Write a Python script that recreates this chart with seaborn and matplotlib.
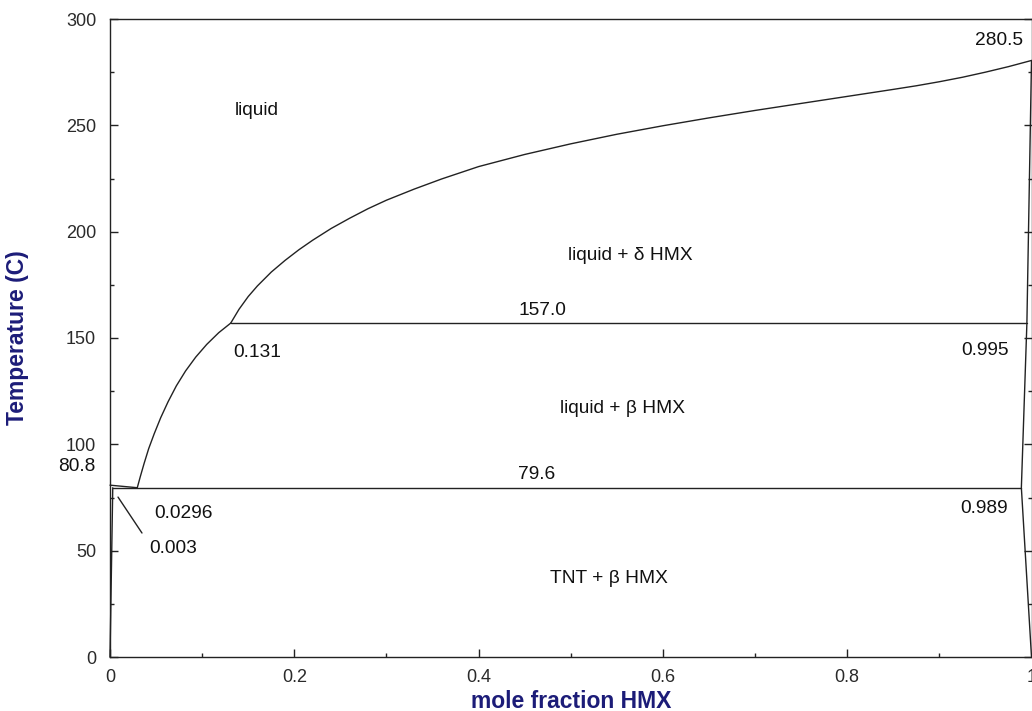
import numpy as np
import pandas as pd
import matplotlib
matplotlib.use("Agg")
import matplotlib.pyplot as plt
from matplotlib.ticker import MultipleLocator
import seaborn as sns

# Liquidus of delta-HMX (upper branch)
delta_x = [0.131, 0.14, 0.15, 0.16, 0.175, 0.19, 0.205, 0.22, 0.24, 0.26, 0.28,
           0.30, 0.33, 0.36, 0.40, 0.45, 0.50, 0.55, 0.60, 0.65, 0.70, 0.75,
           0.80, 0.85, 0.875, 0.90, 0.925, 0.95, 0.975, 1.0]
delta_t = [157.0, 163.5, 169.5, 174.5, 181.0, 186.5, 191.5, 196.0, 201.5, 206.3,
           210.8, 214.8, 220.0, 224.8, 230.6, 236.3, 241.3, 245.8, 249.8, 253.5,
           257.0, 260.3, 263.6, 266.9, 268.6, 270.5, 272.6, 275.0, 277.6, 280.5]

# Liquidus of beta-HMX (lower branch)
beta_x = [0.0296, 0.033, 0.037, 0.042, 0.048, 0.055, 0.063, 0.072, 0.082,
          0.093, 0.105, 0.118, 0.131]
beta_t = [79.6, 85.0, 91.0, 98.0, 105.0, 112.5, 120.0, 127.5, 134.5,
          141.0, 147.0, 152.5, 157.0]

# Transition lines: [x_start, x_end, temperature]
trans_high = [0.131, 0.995, 157.0]
trans_low = [0.003, 0.989, 79.6]

# TNT side
tnt_liq_x = [0.0, 0.0296]
tnt_liq_t = [80.8, 79.6]
tnt_sol_x = [0.003, 0.0]
tnt_sol_t = [79.6, 0.0]

# HMX side solidus
hmx_sol_x = [1.0, 0.989, 0.995, 1.0]
hmx_sol_t = [0.0, 79.6, 157.0, 280.5]

segments = {
    "delta": (delta_x, delta_t),
    "beta": (beta_x, beta_t),
    "high": ([trans_high[0], trans_high[1]], [trans_high[2], trans_high[2]]),
    "low": ([trans_low[0], trans_low[1]], [trans_low[2], trans_low[2]]),
    "tnt_liq": (tnt_liq_x, tnt_liq_t),
    "tnt_sol": (tnt_sol_x, tnt_sol_t),
    "hmx_sol": (hmx_sol_x, hmx_sol_t),
}
rows = []
for name, (xs, ts) in segments.items():
    for i, (x, t) in enumerate(zip(xs, ts)):
        rows.append({"seg": name, "order": i, "x": x, "T": t})
df = pd.DataFrame(rows)

sns.set_theme(style="ticks")
plt.rcParams["font.family"] = ["Liberation Sans", "DejaVu Sans"]

fig = plt.figure(figsize=(10.32, 7.11), dpi=100)
ax = fig.add_axes([110 / 1032, 1 - 657 / 711, 921.5 / 1032, 638 / 711])

for name, sub in df.groupby("seg", sort=False):
    sns.lineplot(data=sub, x="x", y="T", sort=False, estimator=None,
                 color="#222222", linewidth=1.0, ax=ax, clip_on=False)

# pointer for the 0.003 label
ptr_x = [0.0087, 0.0347]
ptr_t = [75.2, 58.3]
sns.lineplot(x=ptr_x, y=ptr_t, sort=False, estimator=None,
             color="#222222", linewidth=1.0, ax=ax)

labels = [
    ("liquid", 0.159, 257.0),
    ("280.5", 0.965, 290.0),
    ("liquid + δ HMX", 0.565, 189.0),
    ("157.0", 0.469, 163.0),
    ("0.131", 0.160, 143.4),
    ("0.995", 0.949, 144.0),
    ("liquid + β HMX", 0.556, 117.0),
    ("79.6", 0.463, 85.6),
    ("80.8", -0.036, 89.8),
    ("0.0296", 0.080, 67.7),
    ("0.003", 0.069, 51.2),
    ("0.989", 0.949, 70.0),
    ("TNT + β HMX", 0.541, 37.0),
]
for txt, x, t in labels:
    ax.text(x, t, txt, ha="center", va="center", fontsize=13.8,
            color="#111111", clip_on=False)

ax.set_xlim(0, 1.0)
ax.set_ylim(0, 300)
ax.xaxis.set_minor_locator(MultipleLocator(0.1))
ax.yaxis.set_major_locator(MultipleLocator(50))
ax.yaxis.set_minor_locator(MultipleLocator(25))
ax.set_xticks([0, 0.2, 0.4, 0.6, 0.8, 1.0])
ax.set_xticklabels(["0", "0.2", "0.4", "0.6", "0.8", "1"])
ax.tick_params(which="both", direction="in", right=True, top=False,
               colors="#222222", labelcolor="#2a2a2a", labelsize=13)
ax.tick_params(which="major", length=6, width=1)
ax.tick_params(which="minor", length=3, width=1)
ax.tick_params(axis="x", pad=9)
ax.tick_params(axis="y", pad=10)
for s in ax.spines.values():
    s.set_color("#222222")
    s.set_linewidth(1.0)
    s.set_visible(True)

ax.set_xlabel("mole fraction HMX", fontsize=16.5, fontweight="bold",
              color="#1c1c78")
ax.set_ylabel("Temperature (C)", fontsize=16.5, fontweight="bold",
              color="#1c1c78")
ax.xaxis.set_label_coords(0.5003, -0.051)
ax.yaxis.set_label_coords(-0.088, 0.5)

fig.savefig("out.png", dpi=100)
